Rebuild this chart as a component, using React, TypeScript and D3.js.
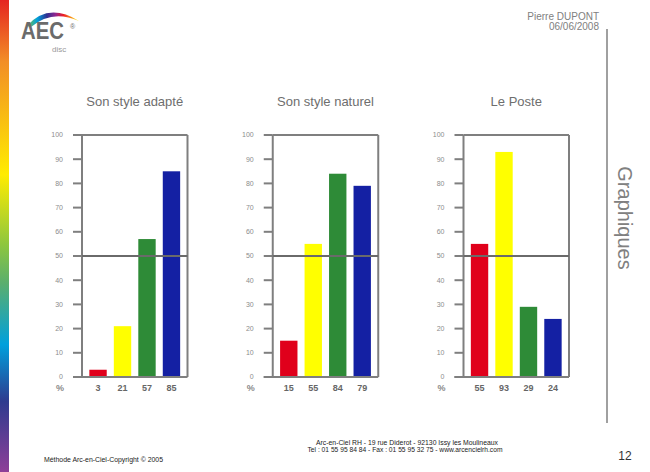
import React from "react";
import * as d3 from "d3";

const chartTitles = ["Son style adapté", "Son style naturel", "Le Poste"];
const seriesAdapte = [3, 21, 57, 85];
const seriesNaturel = [15, 55, 84, 79];
const seriesPoste = [55, 93, 29, 24];
const allSeries = [seriesAdapte, seriesNaturel, seriesPoste];
const barColors = ["#e0001b", "#ffff00", "#2e8b37", "#1420a3"];
const yTicks = [0, 10, 20, 30, 40, 50, 60, 70, 80, 90, 100];
const thresholdValue = 50;

const rainbowStops = [
  { o: 0, c: "#e52421" },
  { o: 0.13, c: "#f28e26" },
  { o: 0.37, c: "#ffec00" },
  { o: 0.52, c: "#8cc63f" },
  { o: 0.6, c: "#5aae6e" },
  { o: 0.73, c: "#00a0dc" },
  { o: 0.85, c: "#2e3b8f" },
  { o: 1, c: "#8e3f98" },
];

const logoStops = [
  { o: 0, c: "#7ac143" },
  { o: 0.2, c: "#00a0dc" },
  { o: 0.38, c: "#2e3192" },
  { o: 0.55, c: "#92278f" },
  { o: 0.7, c: "#ed1c24" },
  { o: 0.85, c: "#f7941d" },
  { o: 1, c: "#fff200" },
];

const W = 650;
const H = 472;

function BarPanel({ idx }: { idx: number }) {
  const x0 = 82 + idx * 190.75;
  const plotW = 105.5;
  const top = 135;
  const bottom = 377;
  const values = allSeries[idx];
  const y = d3.scaleLinear().domain([0, 100]).range([bottom, top]);
  const x = d3
    .scaleBand<number>()
    .domain(values.map((_, i) => i))
    .range([x0, x0 + plotW])
    .paddingInner(0.29)
    .paddingOuter(0.3);
  const axisCol = "#7f7f7f";
  return (
    <g>
      <text
        x={x0 + plotW / 2}
        y={106}
        textAnchor="middle"
        fontSize={13}
        fill="#6e6e6e"
        fontFamily="Liberation Sans, Arial, sans-serif"
      >
        {chartTitles[idx]}
      </text>
      {values.map((v, i) => (
        <rect
          key={i}
          x={x(i)}
          y={y(v)}
          width={x.bandwidth()}
          height={y(0) - y(v)}
          fill={barColors[i]}
        />
      ))}
      {yTicks.map((t) => (
        <g key={t}>
          <line x1={x0 - 9} x2={x0} y1={y(t)} y2={y(t)} stroke={axisCol} strokeWidth={2} />
          <text
            x={x0 - 19}
            y={y(t)}
            dy="0.35em"
            textAnchor="end"
            fontSize={7}
            fill="#8c8c8c"
            fontFamily="Liberation Sans, Arial, sans-serif"
          >
            {t}
          </text>
        </g>
      ))}
      <line x1={x0} x2={x0 + plotW} y1={top} y2={top} stroke={axisCol} strokeWidth={2} />
      <line x1={x0 + plotW} x2={x0 + plotW} y1={top} y2={bottom} stroke={axisCol} strokeWidth={2} />
      <line x1={x0} x2={x0} y1={top} y2={bottom} stroke={axisCol} strokeWidth={2} />
      <line x1={x0 - 9} x2={x0 + plotW} y1={bottom} y2={bottom} stroke={axisCol} strokeWidth={2} />
      <line
        x1={x0}
        x2={x0 + plotW}
        y1={y(thresholdValue)}
        y2={y(thresholdValue)}
        stroke="#6a6a6a"
        strokeWidth={2}
      />
      <text
        x={x0 - 22}
        y={391}
        textAnchor="middle"
        fontSize={9}
        fontWeight="bold"
        fill="#8a8a8a"
        fontFamily="Liberation Sans, Arial, sans-serif"
      >
        %
      </text>
      {values.map((v, i) => (
        <text
          key={i}
          x={(x(i) as number) + x.bandwidth() / 2}
          y={391}
          textAnchor="middle"
          fontSize={9}
          fontWeight="bold"
          fill="#666"
          fontFamily="Liberation Sans, Arial, sans-serif"
        >
          {v}
        </text>
      ))}
    </g>
  );
}

export default function App() {
  const font = "Liberation Sans, Arial, sans-serif";
  return (
    <svg
      width={W}
      height={H}
      style={{ position: "absolute", left: 0, top: 0, background: "#fff" }}
    >
      <defs>
        <linearGradient id="rainbow" x1="0" y1="0" x2="0" y2="1">
          {rainbowStops.map((s) => (
            <stop key={s.o} offset={s.o} stopColor={s.c} />
          ))}
        </linearGradient>
        <linearGradient id="logoGrad" x1="0" y1="0" x2="1" y2="0">
          {logoStops.map((s) => (
            <stop key={s.o} offset={s.o} stopColor={s.c} />
          ))}
        </linearGradient>
      </defs>
      <rect x={0} y={0} width={W} height={H} fill="#fff" />
      <rect x={0} y={0} width={9} height={H} fill="url(#rainbow)" />

      {/* logo */}
      <path d="M27,26 Q48,2 79,21 Q52,9 31,27 Z" fill="url(#logoGrad)" />
      <text x={21} y={39} fontSize={23} fontWeight="bold" fill="#6b6b6b" fontFamily={font} textLength={43} lengthAdjust="spacingAndGlyphs">
        AEC
      </text>
      <text x={70} y={29} fontSize={7} fill="#6b6b6b" fontFamily={font}>
        ®
      </text>
      <text x={52} y={52} fontSize={8} fill="#999" fontFamily={font}>
        disc
      </text>

      {/* header */}
      <text x={599} y={20} textAnchor="end" fontSize={10} fill="#808080" fontFamily={font}>
        Pierre DUPONT
      </text>
      <text x={599} y={30} textAnchor="end" fontSize={10} fill="#808080" fontFamily={font}>
        06/06/2008
      </text>
      <line x1={607} x2={607} y1={29} y2={423} stroke="#808080" strokeWidth={1.5} />
      <text
        transform="translate(618,218) rotate(90)"
        textAnchor="middle"
        fontSize={20}
        fill="#808080"
        fontFamily={font}
      >
        Graphiques
      </text>

      {[0, 1, 2].map((i) => (
        <BarPanel key={i} idx={i} />
      ))}

      {/* footer */}
      <text x={407} y={445} textAnchor="middle" fontSize={7} fill="#222" fontFamily={font} textLength={182} lengthAdjust="spacingAndGlyphs">
        Arc-en-Ciel RH - 19 rue Diderot - 92130 Issy les Moulineaux
      </text>
      <text x={405} y={452} textAnchor="middle" fontSize={7} fill="#222" fontFamily={font} textLength={195} lengthAdjust="spacingAndGlyphs">
        Tel : 01 55 95 84 84 - Fax : 01 55 95 32 75 - www.arcencielrh.com
      </text>
      <text x={44} y={462} fontSize={7} fill="#222" fontFamily={font} textLength={119} lengthAdjust="spacingAndGlyphs">
        Méthode Arc-en-Ciel-Copyright © 2005
      </text>
      <text x={625} y={460} textAnchor="middle" fontSize={12} fill="#333" fontFamily={font}>
        12
      </text>
    </svg>
  );
}
